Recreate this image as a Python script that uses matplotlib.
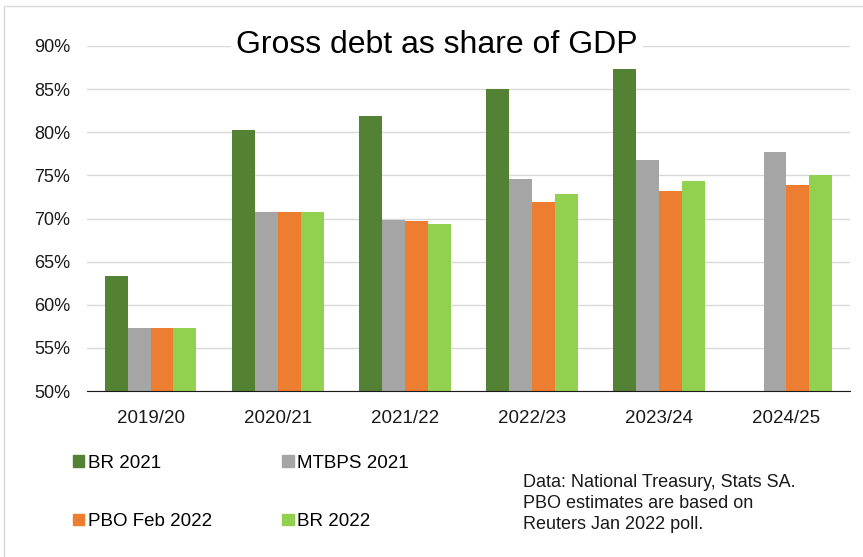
import matplotlib.pyplot as plt
import numpy as np
from matplotlib.patches import Rectangle, Patch
from matplotlib.ticker import PercentFormatter

plt.rcParams['font.family'] = ['Liberation Sans', 'DejaVu Sans']

years = ['2019/20', '2020/21', '2021/22', '2022/23', '2023/24', '2024/25']
br2021 = [63.3, 80.3, 81.9, 85.0, 87.3, np.nan]
mtbps2021 = [57.3, 70.7, 69.8, 74.6, 76.8, 77.7]
pbo2022 = [57.3, 70.7, 69.7, 71.9, 73.2, 73.9]
br2022 = [57.3, 70.7, 69.4, 72.8, 74.4, 75.0]

series = [('BR 2021', br2021, '#548235'),
          ('MTBPS 2021', mtbps2021, '#A5A5A5'),
          ('PBO Feb 2022', pbo2022, '#ED7D31'),
          ('BR 2022', br2022, '#92D050')]

fig = plt.figure(figsize=(8.63, 5.57), dpi=100)
fig.patches.append(Rectangle((4/863, -0.1), 1.2, 1 - 6/557 + 0.1, transform=fig.transFigure,
                             fill=False, edgecolor='#D9D9D9', lw=1))
ax = fig.add_axes([87/863, 1 - 391/557, (850-87)/863, (391-46)/557])

x = np.arange(len(years))
w = 0.18
for i, (name, vals, col) in enumerate(series):
    ax.bar(x + (i - 1.5) * w, vals, w, color=col, label=name, zorder=2)

ax.set_ylim(50, 90)
ax.set_xlim(-0.5, len(years) - 0.5)
ax.set_yticks(np.arange(50, 91, 5))
ax.yaxis.set_major_formatter(PercentFormatter(decimals=0))
ax.set_xticks(x)
ax.set_xticklabels(years)
ax.grid(axis='y', color='#D9D9D9', lw=1, zorder=0)
ax.set_axisbelow(True)
for s in ['top', 'right', 'left']:
    ax.spines[s].set_visible(False)
ax.spines['bottom'].set_color('#1a1a1a')
ax.tick_params(axis='both', length=0, colors='#1a1a1a')
ax.tick_params(axis='x', labelsize=13.5, pad=14)
ax.tick_params(axis='y', labelsize=13, pad=12)

fig.text(437/863, 1 - 45/557, 'Gross debt as share of GDP', fontsize=23, ha='center', va='center',
         bbox=dict(facecolor='white', edgecolor='none', pad=4))

handles = [Patch(color=c) for _, _, c in series]
labels = [n for n, _, _ in series]
order = [0, 2, 1, 3]
fig.legend([handles[i] for i in order], [labels[i] for i in order], ncol=2,
           loc='upper left', bbox_to_anchor=(56/863, 1 - 438/557), frameon=False,
           fontsize=13.5, handlelength=0.6, handleheight=0.6, handletextpad=0.2,
           labelspacing=2.2, columnspacing=3.75)

fig.text(523/863, 1 - 474/557,
         'Data: National Treasury, Stats SA.\nPBO estimates are based on\nReuters Jan 2022 poll.',
         fontsize=13, ha='left', va='top', linespacing=1.32, color='#1a1a1a')

fig.savefig('out.png', dpi=100)
